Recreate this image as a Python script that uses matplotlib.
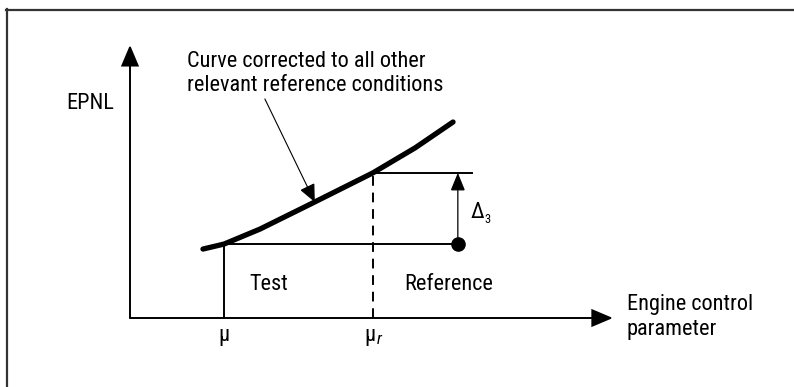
import matplotlib.pyplot as plt
from matplotlib.patches import FancyArrowPatch
from matplotlib.lines import Line2D

# 字体: 窄体无衬线
plt.rcParams['font.family'] = ['Roboto Condensed', 'DejaVu Sans']

# 修正后的曲线 (发动机控制参数 -> EPNL)
curve_x = [1.52, 1.96, 2.71, 3.81, 5.06, 5.94, 6.73]
curve_y = [2.48, 2.66, 3.20, 4.14, 5.22, 6.12, 7.05]

mu = 1.96          # 试验状态
mu_r = 5.06        # 参考状态
test_level = 2.66  # 试验点 EPNL
ref_level = 5.22   # 曲线在参考状态处的 EPNL
ref_point_x = 6.83
ref_line_end = 7.13

x_axis_end = 10.06
y_axis_end = 9.82

fig = plt.figure(figsize=(7.94, 3.87), dpi=100)
ax = fig.add_axes([0, 0, 1, 1])
ax.set_xlim(-130 / 48, 664 / 48)
ax.set_ylim(-69 / 27.8, 318 / 27.8)
ax.axis('off')

# 外框 (只有上边和左边)
fig.add_artist(Line2D([6 / 794, 1], [1 - 9.5 / 387] * 2, color='#333333', lw=1.6))
fig.add_artist(Line2D([6.5 / 794] * 2, [0, 1 - 9 / 387], color='#333333', lw=1.6))


def arrow(p0, p1, lw, hl, hw):
    a = FancyArrowPatch(p0, p1, arrowstyle='-|>,head_length=%g,head_width=%g' % (hl, hw),
                        mutation_scale=1, color='black', lw=lw, shrinkA=0, shrinkB=0,
                        joinstyle='miter')
    ax.add_patch(a)


# 坐标轴
arrow((0, 0), (x_axis_end, 0), 1.4, 13, 5.5)
arrow((0, 0), (0, y_axis_end), 1.4, 13, 5.5)

# 曲线
ax.plot(curve_x, curve_y, color='black', lw=3.8, solid_capstyle='round')

# 试验点水平线和竖线
ax.plot([mu, ref_point_x], [test_level, test_level], color='black', lw=1.4)
ax.plot([mu, mu], [0, test_level], color='black', lw=1.4)
ax.plot([mu_r, mu_r], [0, ref_level], color='black', lw=1.4, ls=(0, (5, 3.5)))
ax.plot([mu_r, ref_line_end], [ref_level, ref_level], color='black', lw=1.4)
ax.plot([ref_point_x], [test_level], 'o', color='black', ms=9.5)

# Δ3 箭头
arrow((ref_point_x, test_level), (ref_point_x, ref_level), 0.9, 11, 4.5)

# 指向曲线的注释
arrow((2.81, 7.88), (3.85, 4.17), 0.8, 11, 5)

fs = 16
ax.text(-0.83, 7.73, 'EPNL', fontsize=fs, ha='center', va='center')
ax.text(1.19, 8.79, 'Curve corrected to all other\nrelevant reference conditions',
        fontsize=fs, ha='left', va='center', linespacing=1.2)
ax.text(2.90, 1.19, 'Test', fontsize=fs, ha='center', va='center')
ax.text(6.63, 1.19, 'Reference', fontsize=fs, ha='center', va='center')
ax.text(10.35, 0.05, 'Engine control\nparameter', fontsize=fs, ha='left', va='center',
        linespacing=1.25)
ax.text(mu, -0.62, 'μ', fontsize=fs, ha='center', va='center')
ax.text(mu_r - 0.06, -0.62, 'μ', fontsize=fs, ha='center', va='center')
ax.text(mu_r + 0.08, -0.78, 'r', fontsize=12, ha='left', va='center', style='italic')
ax.text(7.23, 3.78, 'Δ', fontsize=fs, ha='center', va='center')
ax.text(7.38, 3.55, '3', fontsize=9, ha='left', va='center')

fig.savefig('out.png', dpi=100)
